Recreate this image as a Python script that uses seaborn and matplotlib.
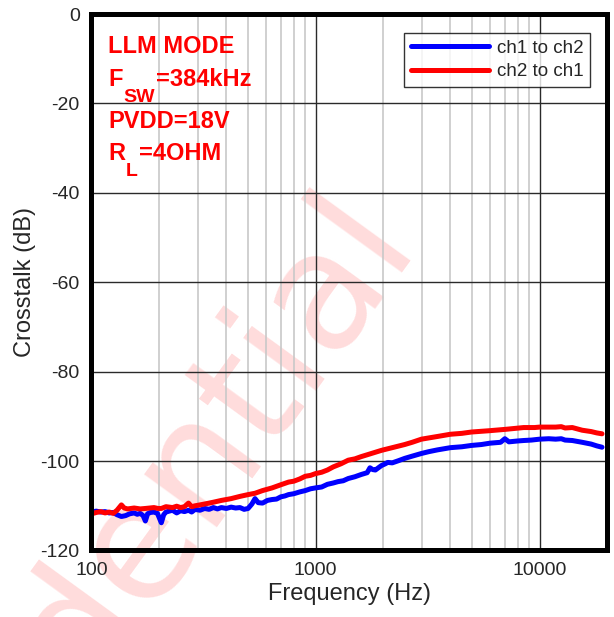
import numpy as np
import pandas as pd
import matplotlib
matplotlib.use('Agg')
import matplotlib.pyplot as plt
import matplotlib.ticker as mticker
import seaborn as sns

sns.set_style('white')
plt.rcParams['font.family'] = ['Liberation Sans', 'DejaVu Sans']
plt.rcParams['axes.unicode_minus'] = False

# ch1 -> ch2 crosstalk (blue)
freq_ch1 = [100, 105, 110, 115, 120, 125, 130, 136, 142, 148, 155, 160, 165, 170, 174, 178,
            183, 190, 197, 205, 210, 215, 222, 230, 240, 250, 260, 271, 280, 290, 305, 320,
            335, 350, 365, 380, 400, 420, 440, 460, 480, 500, 520, 537, 555, 580, 610, 640,
            670, 700, 730, 758, 800, 850, 900, 950, 1000, 1065, 1130, 1200, 1260, 1330, 1400,
            1500, 1600, 1700, 1750, 1800, 1850, 1920, 1970, 2050, 2100, 2200, 2350, 2500, 2700,
            2970, 3200, 3500, 4000, 4500, 4970, 5500, 6000, 6700, 7000, 7300, 8000, 8500,
            9200, 10000, 11000, 11800, 12500, 13000, 14000, 15500, 17000, 18000, 19000]
db_ch1 = [-111.4, -111.2, -111.4, -111.3, -111.6, -111.5, -112.0, -112.4, -112.2, -111.8,
          -111.6, -111.9, -111.7, -112.2, -113.4, -111.8, -111.5, -111.4, -111.7, -113.8,
          -112.0, -111.4, -111.2, -111.0, -111.6, -111.1, -111.3, -111.0, -111.4, -110.8,
          -111.0, -110.6, -110.8, -110.4, -110.7, -110.4, -110.6, -110.3, -110.5, -110.4,
          -110.8, -110.6, -109.6, -108.4, -109.3, -109.4, -108.8, -108.6, -108.5, -108.0,
          -107.8, -107.5, -107.3, -106.9, -106.6, -106.2, -106.0, -105.8, -105.2, -104.9,
          -104.6, -104.4, -103.9, -103.5, -103.0, -102.6, -101.5, -101.9, -102.0, -101.4,
          -101.0, -100.6, -100.3, -100.4, -99.9, -99.4, -98.9, -98.3, -97.9, -97.5,
          -97.0, -96.8, -96.5, -96.3, -96.0, -95.8, -95.0, -95.7, -95.5, -95.4,
          -95.3, -95.1, -95.0, -95.1, -95.0, -95.3, -95.4, -95.8, -96.2, -96.6, -96.9]

# ch2 -> ch1 crosstalk (red)
freq_ch2 = [100, 105, 110, 115, 120, 125, 130, 136, 140, 145, 150, 155, 165, 174, 182, 190,
            198, 205, 215, 230, 240, 250, 260, 271, 280, 290, 305, 320, 335, 350, 380, 420,
            460, 500, 537, 580, 640, 700, 758, 800, 850, 900, 950, 1000, 1065, 1130, 1200,
            1300, 1400, 1500, 1600, 1750, 1970, 2200, 2500, 2700, 2970, 3500, 4000, 4500,
            4970, 6000, 7050, 8500, 9500, 10000, 11000, 11800, 12500, 13000, 14000, 15500,
            17000, 18000, 19000]
db_ch2 = [-111.8, -111.5, -111.3, -111.6, -111.4, -111.7, -111.0, -109.8, -110.5, -110.7,
          -110.6, -110.5, -110.7, -110.6, -110.5, -110.4, -110.6, -110.6, -110.2, -110.4,
          -110.1, -110.4, -110.2, -109.4, -110.2, -110.0, -109.8, -109.6, -109.4, -109.2,
          -108.8, -108.4, -107.9, -107.5, -107.2, -106.6, -106.0, -105.3, -104.7, -104.5,
          -104.0, -103.4, -103.2, -102.8, -102.5, -102.0, -101.3, -100.6, -99.8, -99.5,
          -99.0, -98.4, -97.6, -97.0, -96.3, -95.8, -95.1, -94.5, -94.0, -93.8,
          -93.5, -93.2, -92.9, -92.5, -92.5, -92.4, -92.4, -92.4, -92.3, -92.6,
          -92.5, -93.1, -93.4, -93.7, -93.9]

x_ticks = [100, 1000, 10000]
x_tick_labels = ['100', '1000', '10000']
y_ticks = [-120, -100, -80, -60, -40, -20, 0]

fig = plt.figure(figsize=(6.14, 6.17), dpi=100)
ax = fig.add_axes([0.149, 0.1078, 0.8396, 0.8695])
ax.set_facecolor('none')

# watermark behind the axes
fig.text(0.678, 0.612, 'Confidential', fontsize=118, color='#ffdcdc', family='DejaVu Sans',
         rotation=54, rotation_mode='anchor', ha='right', va='baseline', zorder=-1)

sns.lineplot(x=freq_ch1, y=db_ch1, ax=ax, color='#0000ff', lw=3.6, label='ch1 to ch2', sort=True)
sns.lineplot(x=freq_ch2, y=db_ch2, ax=ax, color='#ff0000', lw=3.6, label='ch2 to ch1', sort=True)

ax.set_xscale('log')
ax.set_xlim(100, 20000)
ax.set_ylim(-120, 0)
ax.xaxis.set_major_locator(mticker.FixedLocator(x_ticks))
ax.xaxis.set_major_formatter(mticker.FixedFormatter(x_tick_labels))
ax.xaxis.set_minor_locator(mticker.LogLocator(base=10, subs=np.arange(2, 10)))
ax.xaxis.set_minor_formatter(mticker.NullFormatter())
ax.set_yticks(y_ticks)

ax.grid(which='major', color='#2a2a2a', lw=1.0)
ax.grid(which='minor', axis='x', color='#c8c8c8', lw=1.2)
ax.set_axisbelow(True)
ax.tick_params(which='both', length=0, pad=8.5, labelsize=14, labelcolor='#262626')

for sp in ax.spines.values():
    sp.set_visible(True)
    sp.set_color('black')
    sp.set_linewidth(3.6)

ax.set_xlabel('Frequency (Hz)', fontsize=17, color='#262626', labelpad=3)
ax.set_ylabel('Crosstalk (dB)', fontsize=17, color='#262626', labelpad=3)

leg = ax.legend(loc='upper right', bbox_to_anchor=(0.967, 0.9645), borderaxespad=0,
                fontsize=13.5, frameon=True, fancybox=False, edgecolor='black',
                handlelength=4.2, handletextpad=0.4, labelspacing=0.35, borderpad=0.35)
leg.get_frame().set_linewidth(1.0)
for line in leg.get_lines():
    line.set_linewidth(3.6)

# condition notes
red_kw = dict(color='#ff0000', fontweight='bold')
ax.text(0.032, 0.927, 'LLM MODE', transform=ax.transAxes, fontsize=17, va='baseline', **red_kw)
t_f = ax.text(0.032, 0.866, 'F', transform=ax.transAxes, fontsize=17, va='baseline', **red_kw)
t_sw = ax.annotate('SW', xy=(1, 0), xycoords=t_f, xytext=(0.5, -11), textcoords='offset points',
                   fontsize=14, va='bottom', ha='left', **red_kw)
ax.annotate('=384kHz', xy=(1, 0), xycoords=(t_sw, t_f), xytext=(1, 0), textcoords='offset points',
            fontsize=17, va='bottom', ha='left', **red_kw)
ax.text(0.032, 0.788, 'PVDD=18V', transform=ax.transAxes, fontsize=17, va='baseline', **red_kw)
t_r = ax.text(0.032, 0.728, 'R', transform=ax.transAxes, fontsize=17, va='baseline', **red_kw)
t_l = ax.annotate('L', xy=(1, 0), xycoords=t_r, xytext=(0.5, -11), textcoords='offset points',
                  fontsize=14, va='bottom', ha='left', **red_kw)
ax.annotate('=4OHM', xy=(1, 0), xycoords=(t_l, t_r), xytext=(1, 0), textcoords='offset points',
            fontsize=17, va='bottom', ha='left', **red_kw)

fig.savefig('out.png', dpi=100)
